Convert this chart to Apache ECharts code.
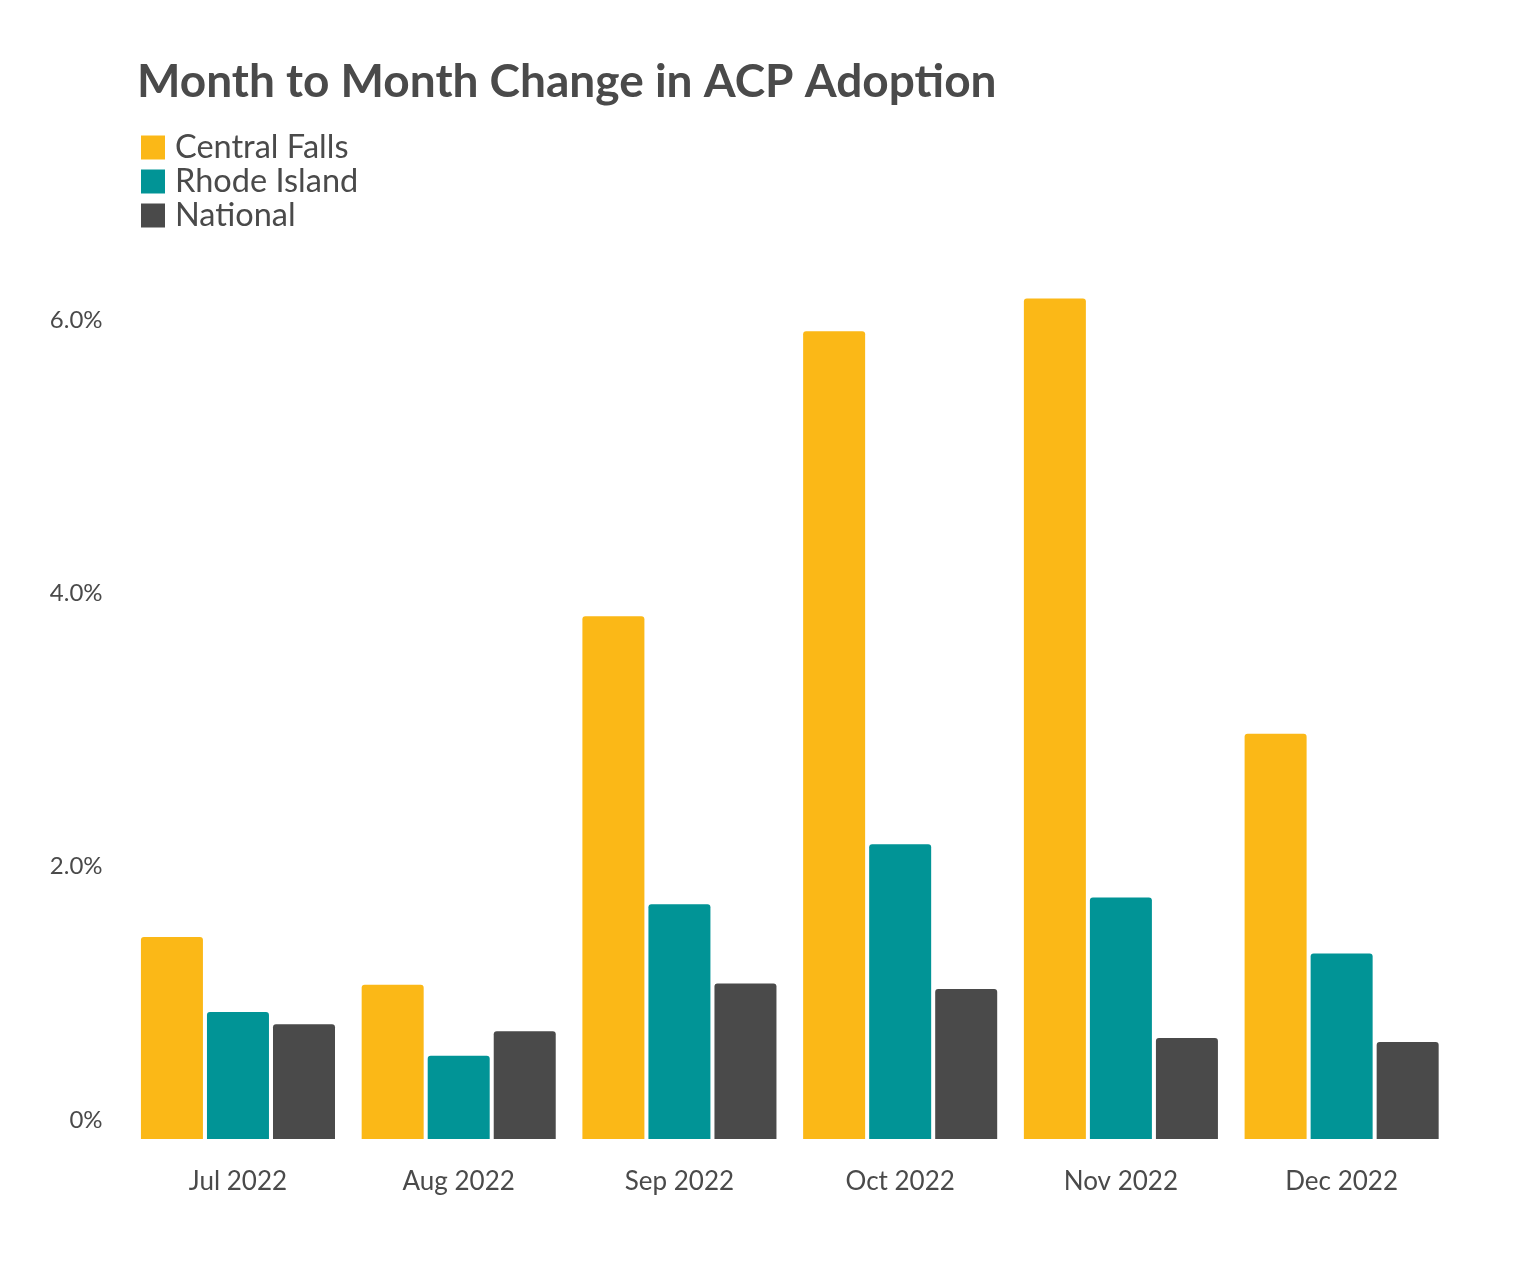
<!DOCTYPE html>
<html>
<head>
<meta charset="utf-8">
<script src="https://cdn.jsdelivr.net/npm/echarts@6/dist/echarts.min.js"></script>
<style>
html,body{margin:0;padding:0;background:#fff;}
#chart{width:1536px;height:1261px;}
</style>
</head>
<body>
<div id="chart"></div>
<script>
const titleText = 'Month to Month Change in ACP Adoption';
const categories = ['Jul 2022', 'Aug 2022', 'Sep 2022', 'Oct 2022', 'Nov 2022', 'Dec 2022'];
const seriesNames = ['Central Falls', 'Rhode Island', 'National'];
const centralFalls = [1.48, 1.13, 3.83, 5.92, 6.16, 2.97];
const rhodeIsland = [0.93, 0.61, 1.72, 2.16, 1.77, 1.36];
const national = [0.84, 0.79, 1.14, 1.10, 0.74, 0.71];
const colors = ['#FBB817', '#019496', '#4A4A4A'];

const textColor = '#4a4a4a';
const font = 'Lato';
const chart = echarts.init(document.getElementById('chart'));

function mkSeries(name, data, color) {
  return {
    name: name,
    type: 'bar',
    data: data,
    barWidth: 62,
    barGap: '6.5%',
    itemStyle: { color: color, borderRadius: [3, 3, 0, 0] }
  };
}

chart.setOption({
  backgroundColor: '#fff',
  animation: false,
  color: colors,
  title: {
    text: titleText,
    left: 132,
    top: 54,
    textStyle: { fontFamily: font, fontWeight: 'bold', fontSize: 46, color: textColor }
  },
  legend: {
    orient: 'vertical',
    left: 141,
    top: 131,
    padding: 0,
    itemWidth: 24,
    itemHeight: 24,
    itemGap: 1,
    icon: 'rect',
    data: seriesNames,
    textStyle: { fontFamily: font, fontSize: 32.5, color: textColor, padding: [0, 0, 0, 5] }
  },
  grid: { left: 127.6, right: 84, top: 252, bottom: 122, containLabel: false },
  xAxis: {
    type: 'category',
    data: categories,
    axisLine: { show: false },
    axisTick: { show: false },
    axisLabel: { fontFamily: font, fontSize: 26, color: textColor, margin: 30 }
  },
  yAxis: {
    type: 'value',
    min: 0,
    max: 6.5,
    interval: 2,
    splitLine: { show: false },
    axisLine: { show: false },
    axisTick: { show: false },
    axisLabel: {
      fontFamily: font, fontSize: 24, color: textColor, margin: 25,
      showMaxLabel: false,
      formatter: function (v) {
        if (Math.abs(v % 2) > 1e-9) return '';
        if (v === 0) return '{z|0%}';
        return v.toFixed(1) + '%';
      },
      rich: { z: { fontFamily: font, fontSize: 24, color: textColor, padding: [0, 0, 38, 0] } }
    }
  },
  series: [
    mkSeries(seriesNames[0], centralFalls, colors[0]),
    mkSeries(seriesNames[1], rhodeIsland, colors[1]),
    mkSeries(seriesNames[2], national, colors[2])
  ]
});
</script>
</body>
</html>
